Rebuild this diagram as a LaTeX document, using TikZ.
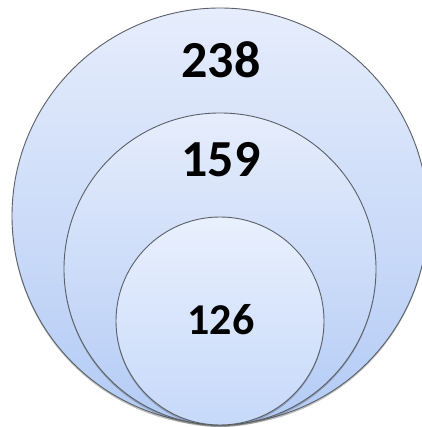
\documentclass[tikz,border=0pt]{standalone}
\usepackage{fontspec}
\setmainfont{Carlito}
\usetikzlibrary{shadows}
\definecolor{topblue}{HTML}{E6EDFC}
\definecolor{botblue}{HTML}{B3CBF5}
\definecolor{itop}{HTML}{E9F0FD}
\definecolor{ibot}{HTML}{C6D9FA}
\definecolor{edgegray}{HTML}{5A6068}
\tikzset{
  ring/.style={draw=edgegray, line width=0.9pt, top color=topblue, bottom color=botblue,
    drop shadow={shadow xshift=0pt, shadow yshift=-2pt, opacity=0.35, fill=black!70}},
  inring/.style={ring, top color=itop, bottom color=ibot},
  num/.style={font=\bfseries\fontsize{52}{52}\selectfont, text=black, inner sep=0pt}
}
\begin{document}
\begin{tikzpicture}[x=1pt,y=1pt]
\useasboundingbox (0,0) rectangle (421,427);
\fill[white] (0,0) rectangle (421,427);
\path[ring] (220,211) circle (208);
\path[ring] (220,158) circle (156);
\path[inring] (220,106) circle (104);
\node[num] (a) at (221,367) {238};
\node[num] (b) at (221,267) {159};
\node[num, font=\bfseries\fontsize{44}{44}\selectfont] (c) at (221,107) {126};
\end{tikzpicture}
\end{document}
